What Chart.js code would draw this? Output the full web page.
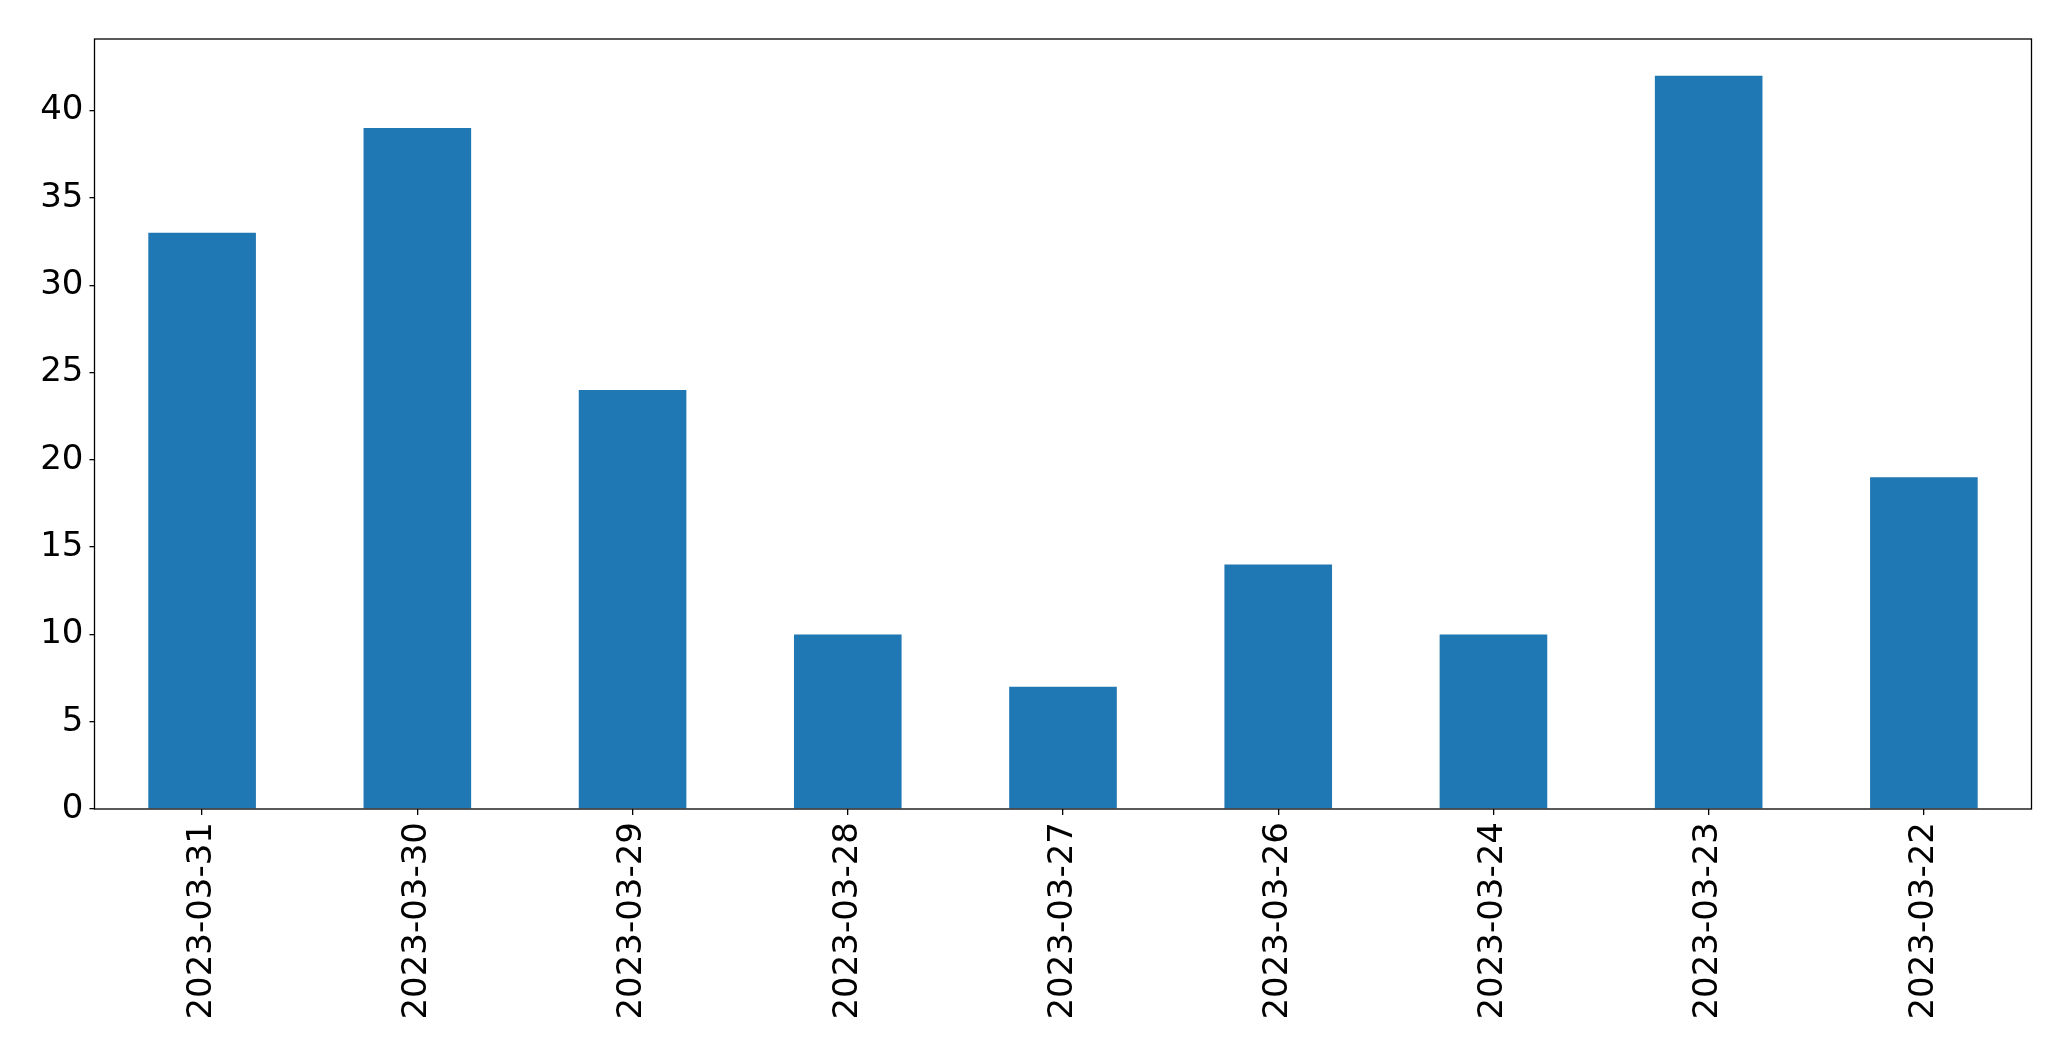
<!DOCTYPE html>
<html>
<head>
<meta charset="utf-8">
<script src="https://cdn.jsdelivr.net/npm/chart.js@4/dist/chart.umd.min.js"></script>
<style>
	html, body { margin: 0; padding: 0; background: #fff; }
	#box { width: 2071px; height: 1061px; }
</style>
</head>
<body>
<div id="box"><canvas id="grafico"></canvas></div>
<script>
// dati
var categorie = ['2023-03-31', '2023-03-30', '2023-03-29', '2023-03-28', '2023-03-27', '2023-03-26', '2023-03-24', '2023-03-23', '2023-03-22'];
var valori = [33, 39, 24, 10, 7, 14, 10, 42, 19];
var tickY = [0, 5, 10, 15, 20, 25, 30, 35, 40];

// cornice intorno all'area del grafico (stile matplotlib)
var cornice = {
	id: 'cornice',
	afterDraw: function (chart) {
		var a = chart.chartArea;
		var ctx = chart.ctx;
		ctx.save();
		ctx.strokeStyle = '#000';
		ctx.lineWidth = 1.3;
		ctx.strokeRect(a.left, a.top, a.right - a.left, a.bottom - a.top);
		ctx.restore();
	}
};

var ctx = document.getElementById('grafico');
var chart = new Chart(ctx, {
	type: 'bar',
	data: {
		labels: categorie,
		datasets: [{
			data: valori,
			backgroundColor: '#1f77b4',
			barPercentage: 0.5,
			categoryPercentage: 1
		}]
	},
	options: {
		responsive: true,
		maintainAspectRatio: false,
		animation: false,
		layout: { padding: { top: 39, right: 39.5, left: 0, bottom: 0 } },
		plugins: { legend: { display: false }, tooltip: { enabled: false } },
		scales: {
			x: {
				offset: true,
				grid: { display: true, drawOnChartArea: false, tickLength: 6, color: '#000', lineWidth: 1.3, offset: false },
				border: { display: false },
				ticks: {
					minRotation: 90, maxRotation: 90, autoSkip: false,
					color: '#000', padding: 7,
					font: { family: 'DejaVu Sans', size: 34 }
				},
				afterFit: function (scale) { scale.height = 252; }
			},
			y: {
				min: 0, max: 44.1,
				grid: { display: true, drawOnChartArea: false, tickLength: 5, color: '#000', lineWidth: 1.3 },
				border: { display: false },
				ticks: {
					color: '#000', padding: 6,
					font: { family: 'DejaVu Sans', size: 34 }
				},
				afterBuildTicks: function (scale) {
					scale.ticks = tickY.map(function (v) { return { value: v }; });
				},
				afterFit: function (scale) { scale.width = 94.5; }
			}
		}
	},
	plugins: [cornice]
});
</script>
</body>
</html>
